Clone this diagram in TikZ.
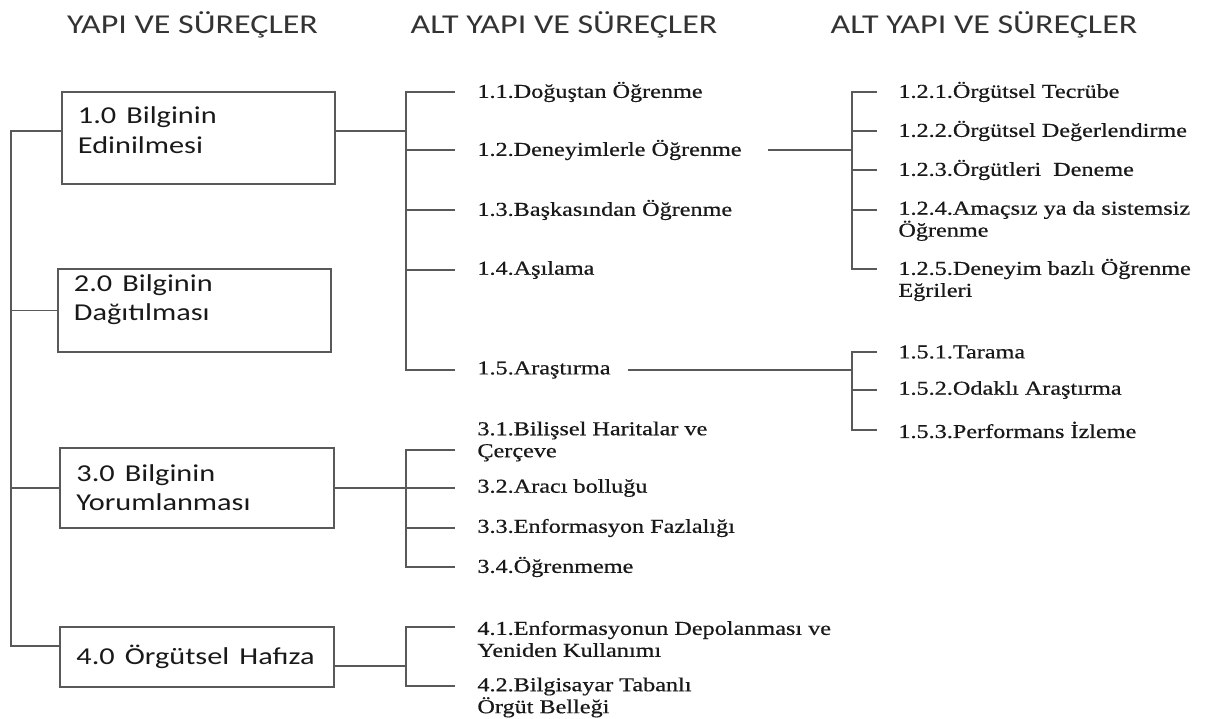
\documentclass[tikz,border=0pt]{standalone}
\usepackage{fontspec}
\setmainfont{Liberation Serif}
\newfontfamily\calibfont{Carlito}
\newfontfamily\itemfont[FakeBold=0.5]{Liberation Serif}
\tikzset{
	hdr/.style ={font=\calibfont\fontsize{15.5}{18}\selectfont, text=black!80, xscale=1.25},
	box/.style ={rectangle, draw=black!65, line width=1.1pt, text width=3.86cm, inner xsep=0.256cm, inner ysep=0pt, align=left, xscale=1.25, font=\calibfont\fontsize{13.8}{16.7}\selectfont, text=black!90},
	% sub-process entries
	item/.style={anchor=west, inner sep=0pt, align=left, xscale=1.23, font=\itemfont\fontsize{11.2}{12.5}\selectfont, text=black!90},
	lnk/.style ={draw=black!65, line width=1.1pt},
}
\begin{document}
\begin{tikzpicture}[x=0.02cm, y=-0.02cm]
	\useasboundingbox (0,0) rectangle (1211,719);
	\node[hdr] (h1) at (192.5,25) {YAPI VE SÜREÇLER};
	\node[hdr] (h2) at (564,25) {ALT YAPI VE SÜREÇLER};
	\node[hdr] (h3) at (984,25) {ALT YAPI VE SÜREÇLER};
	\node[box, minimum height=1.84cm] (b1) at (198.5,138) {1.0 Bilginin\\Edinilmesi\rule[-0.32cm]{0pt}{0pt}};
	\node[box, minimum height=1.66cm] (b2) at (194.5,310.5) {2.0 Bilginin\\Dağıtılması\rule[-0.52cm]{0pt}{0pt}};
	\node[box, minimum height=1.6cm] (b3) at (197,488) {3.0 Bilginin\\Yorumlanması};
	\node[box, minimum height=1.2cm] (b4) at (197,657) {4.0 Örgütsel Hafıza};
	\node[item] (l11) at (477,92) {1.1.Doğuştan Öğrenme};
	\node[item] (l12) at (477,150) {1.2.Deneyimlerle Öğrenme};
	\node[item] (l13) at (477,210) {1.3.Başkasından Öğrenme};
	\node[item] (l14) at (477,270) {1.4.Aşılama};
	\node[item] (l15) at (477,370) {1.5.Araştırma};
	\node[item] (l121) at (898,92) {1.2.1.Örgütsel Tecrübe};
	\node[item] (l122) at (898,131) {1.2.2.Örgütsel Değerlendirme};
	\node[item] (l123) at (898,170) {1.2.3.Örgütleri\ \ Deneme};
	\node[item] (l124) at (898,221) {1.2.4.Amaçsız ya da sistemsiz\\Öğrenme};
	\node[item] (l125) at (898,280) {1.2.5.Deneyim bazlı Öğrenme\\Eğrileri};
	\node[item] (l151) at (898,352) {1.5.1.Tarama};
	\node[item] (l152) at (898,390) {1.5.2.Odaklı Araştırma};
	\node[item] (l153) at (898,430) {1.5.3.Performans İzleme};
	\node[item] (l31) at (477,441.5) {3.1.Bilişsel Haritalar ve\\Çerçeve};
	\node[item] (l32) at (477,488) {3.2.Aracı bolluğu};
	\node[item] (l33) at (477,528) {3.3.Enformasyon Fazlalığı};
	\node[item] (l34) at (477,567) {3.4.Öğrenmeme};
	\node[item] (l41) at (477,639) {4.1.Enformasyonun Depolanması ve\\Yeniden Kullanımı};
	\node[item] (l42) at (477,697.5) {4.2.Bilgisayar Tabanlı\\Örgüt Belleği};
	\coordinate (tr0) at (11,0);
	\coordinate (tr1) at (406,0);
	\coordinate (tr2) at (852,0);
	\coordinate (w1) at ([yshift=0.14cm]b1.west);
	\coordinate (e1) at ([yshift=0.14cm]b1.east);
	\coordinate (w4) at ([yshift=0.22cm]b4.west);
	\coordinate (e4) at ([yshift=-0.18cm]b4.east);
	\coordinate (j124) at ([yshift=0.22cm]l124.west);
	\coordinate (j125) at ([yshift=0.22cm]l125.west);
	\coordinate (j31) at ([yshift=-0.17cm]l31.west);
	\coordinate (j41) at ([yshift=0.24cm]l41.west);
	\coordinate (j42) at ([yshift=0.23cm]l42.west);
	\draw[lnk] (w1) -- (w1 -| tr0) -- (w4 -| tr0) -- (w4);
	\draw[lnk] (b2.west) -- (b2.west -| tr0);
	\draw[lnk] (b3.west) -- (b3.west -| tr0);
	\draw[lnk] (e1) -- (e1 -| tr1);
	\draw[lnk] ([xshift=-0.44cm]l11.west) -- (l11.west -| tr1) -- (l15.west -| tr1) -- ([xshift=-0.44cm]l15.west);
	\draw[lnk] (l12.west -| tr1) -- ([xshift=-0.44cm]l12.west);
	\draw[lnk] (l13.west -| tr1) -- ([xshift=-0.44cm]l13.west);
	\draw[lnk] (l14.west -| tr1) -- ([xshift=-0.44cm]l14.west);
	\draw[lnk] ([xshift=0.52cm]l12.east) -- (l12.east -| tr2);
	\draw[lnk] ([xshift=-0.42cm]l121.west) -- (l121.west -| tr2) -- (j125 -| tr2) -- ([xshift=-0.42cm]j125);
	\draw[lnk] (l122.west -| tr2) -- ([xshift=-0.42cm]l122.west);
	\draw[lnk] (l123.west -| tr2) -- ([xshift=-0.42cm]l123.west);
	\draw[lnk] (j124 -| tr2) -- ([xshift=-0.42cm]j124);
	\draw[lnk] ([xshift=0.34cm]l15.east) -- (l15.east -| tr2);
	\draw[lnk] ([xshift=-0.42cm]l151.west) -- (l151.west -| tr2) -- (l153.west -| tr2) -- ([xshift=-0.42cm]l153.west);
	\draw[lnk] (l152.west -| tr2) -- ([xshift=-0.42cm]l152.west);
	\draw[lnk] (b3.east) -- (b3.east -| tr1);
	\draw[lnk] ([xshift=-0.44cm]j31) -- (j31 -| tr1) -- (l34.west -| tr1) -- ([xshift=-0.44cm]l34.west);
	\draw[lnk] (l32.west -| tr1) -- ([xshift=-0.44cm]l32.west);
	\draw[lnk] (l33.west -| tr1) -- ([xshift=-0.44cm]l33.west);
	\draw[lnk] (e4) -- (e4 -| tr1);
	\draw[lnk] ([xshift=-0.44cm]j41) -- (j41 -| tr1) -- (j42 -| tr1) -- ([xshift=-0.44cm]j42);
\end{tikzpicture}
\end{document}
